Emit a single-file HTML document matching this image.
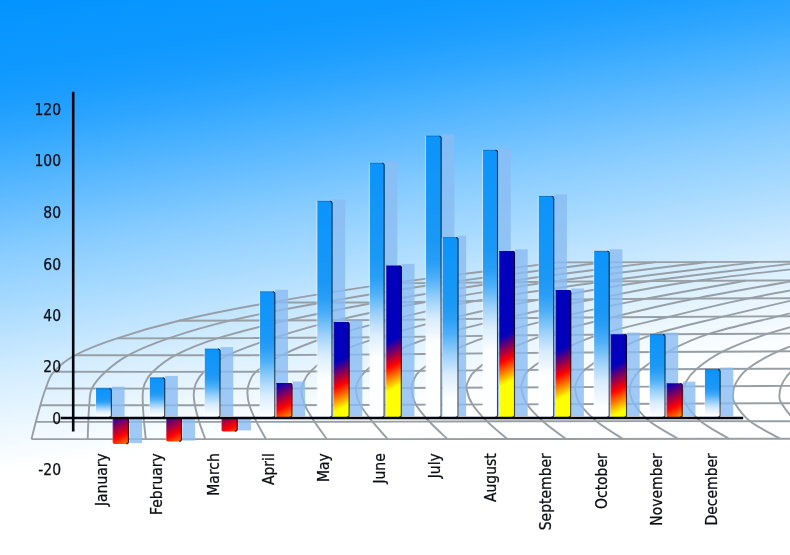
<!DOCTYPE html>
<html lang="en">
<head>
<meta charset="utf-8">
<title>Monthly chart</title>
<style>
html,body{margin:0;padding:0;background:#fff;}
body{width:790px;height:555px;overflow:hidden;}
svg{display:block;}
text{font-family:"DejaVu Sans Condensed","DejaVu Sans","Liberation Sans",sans-serif;font-stretch:condensed;font-size:15.5px;fill:#0b0d14;stroke:#0b0d14;stroke-width:.25px;}
.grid path{fill:none;stroke:#979fa5;stroke-width:1.9;stroke-linecap:butt;}
.sh rect{fill:#8abbf3;fill-opacity:.8;}
.e1{stroke:#00101c;stroke-width:1.1;fill:none;stroke-opacity:.78;}
.e2{stroke:#0a0600;stroke-width:1.1;fill:none;stroke-opacity:.8;}
.hl{stroke:#fff;stroke-width:1.2;fill:none;stroke-opacity:.36;}
.hl2{stroke:#fff;stroke-width:1;fill:none;stroke-opacity:.3;}
.te{stroke:#003a78;stroke-width:.7;fill:none;stroke-opacity:.45;}
.ax{stroke:#00040f;stroke-width:2.6;fill:none;}
</style>
</head>
<body>
<svg width="790" height="555" viewBox="0 0 790 555">
<defs>
<linearGradient id="bg" gradientUnits="userSpaceOnUse" x1="0" y1="0" x2="71.5" y2="464.0">
<stop offset="0.000" stop-color="#0393ff"/>
<stop offset="0.025" stop-color="#0594ff"/>
<stop offset="0.152" stop-color="#0f99ff"/>
<stop offset="0.215" stop-color="#1b9dff"/>
<stop offset="0.278" stop-color="#2da5ff"/>
<stop offset="0.341" stop-color="#43afff"/>
<stop offset="0.404" stop-color="#5ab8ff"/>
<stop offset="0.531" stop-color="#87ccff"/>
<stop offset="0.657" stop-color="#acdcff"/>
<stop offset="0.783" stop-color="#d2ecff"/>
<stop offset="0.909" stop-color="#eef8ff"/>
<stop offset="0.958" stop-color="#f8fcff"/>
<stop offset="1.000" stop-color="#ffffff"/>
</linearGradient>
<linearGradient id="b0" x1="0" y1="0" x2="0" y2="1"><stop offset="0.000" stop-color="#0b94fb"/><stop offset="0.370" stop-color="#1a98f5"/><stop offset="0.450" stop-color="#2a9ef6"/><stop offset="0.546" stop-color="#4fb0f7"/><stop offset="0.667" stop-color="#9ad0fa"/><stop offset="0.787" stop-color="#d8ecfd"/><stop offset="0.932" stop-color="#fdfeff"/></linearGradient>
<linearGradient id="b1" x1="0" y1="0" x2="0" y2="1"><stop offset="0.000" stop-color="#0b94fb"/><stop offset="0.370" stop-color="#1a98f5"/><stop offset="0.450" stop-color="#2a9ef6"/><stop offset="0.550" stop-color="#4fb0f7"/><stop offset="0.675" stop-color="#9ad0fa"/><stop offset="0.800" stop-color="#d8ecfd"/><stop offset="0.950" stop-color="#fdfeff"/></linearGradient>
<linearGradient id="b2" x1="0" y1="0" x2="0" y2="1"><stop offset="0.000" stop-color="#0b94fb"/><stop offset="0.370" stop-color="#1a98f5"/><stop offset="0.450" stop-color="#2a9ef6"/><stop offset="0.554" stop-color="#4fb0f7"/><stop offset="0.684" stop-color="#9ad0fa"/><stop offset="0.815" stop-color="#d8ecfd"/><stop offset="0.971" stop-color="#fdfeff"/></linearGradient>
<linearGradient id="b3" x1="0" y1="0" x2="0" y2="1"><stop offset="0.000" stop-color="#0b94fb"/><stop offset="0.370" stop-color="#1a98f5"/><stop offset="0.450" stop-color="#2a9ef6"/><stop offset="0.557" stop-color="#4fb0f7"/><stop offset="0.690" stop-color="#9ad0fa"/><stop offset="0.824" stop-color="#d8ecfd"/><stop offset="0.984" stop-color="#fdfeff"/></linearGradient>
<linearGradient id="b4" x1="0" y1="0" x2="0" y2="1"><stop offset="0.000" stop-color="#0b94fb"/><stop offset="0.370" stop-color="#1a98f5"/><stop offset="0.450" stop-color="#2a9ef6"/><stop offset="0.524" stop-color="#4fb0f7"/><stop offset="0.616" stop-color="#9ad0fa"/><stop offset="0.709" stop-color="#d8ecfd"/><stop offset="0.819" stop-color="#fdfeff"/></linearGradient>
<linearGradient id="b5" x1="0" y1="0" x2="0" y2="1"><stop offset="0.000" stop-color="#0b94fb"/><stop offset="0.370" stop-color="#1a98f5"/><stop offset="0.450" stop-color="#2a9ef6"/><stop offset="0.513" stop-color="#4fb0f7"/><stop offset="0.591" stop-color="#9ad0fa"/><stop offset="0.670" stop-color="#d8ecfd"/><stop offset="0.764" stop-color="#fdfeff"/></linearGradient>
<linearGradient id="b6" x1="0" y1="0" x2="0" y2="1"><stop offset="0.000" stop-color="#0b94fb"/><stop offset="0.370" stop-color="#1a98f5"/><stop offset="0.450" stop-color="#2a9ef6"/><stop offset="0.507" stop-color="#4fb0f7"/><stop offset="0.578" stop-color="#9ad0fa"/><stop offset="0.649" stop-color="#d8ecfd"/><stop offset="0.734" stop-color="#fdfeff"/></linearGradient>
<linearGradient id="b7" x1="0" y1="0" x2="0" y2="1"><stop offset="0.000" stop-color="#0b94fb"/><stop offset="0.370" stop-color="#1a98f5"/><stop offset="0.450" stop-color="#2a9ef6"/><stop offset="0.510" stop-color="#4fb0f7"/><stop offset="0.585" stop-color="#9ad0fa"/><stop offset="0.659" stop-color="#d8ecfd"/><stop offset="0.749" stop-color="#fdfeff"/></linearGradient>
<linearGradient id="b8" x1="0" y1="0" x2="0" y2="1"><stop offset="0.000" stop-color="#0b94fb"/><stop offset="0.370" stop-color="#1a98f5"/><stop offset="0.450" stop-color="#2a9ef6"/><stop offset="0.522" stop-color="#4fb0f7"/><stop offset="0.613" stop-color="#9ad0fa"/><stop offset="0.703" stop-color="#d8ecfd"/><stop offset="0.811" stop-color="#fdfeff"/></linearGradient>
<linearGradient id="b9" x1="0" y1="0" x2="0" y2="1"><stop offset="0.000" stop-color="#0b94fb"/><stop offset="0.370" stop-color="#1a98f5"/><stop offset="0.450" stop-color="#2a9ef6"/><stop offset="0.546" stop-color="#4fb0f7"/><stop offset="0.666" stop-color="#9ad0fa"/><stop offset="0.786" stop-color="#d8ecfd"/><stop offset="0.930" stop-color="#fdfeff"/></linearGradient>
<linearGradient id="b10" x1="0" y1="0" x2="0" y2="1"><stop offset="0.000" stop-color="#0b94fb"/><stop offset="0.370" stop-color="#1a98f5"/><stop offset="0.450" stop-color="#2a9ef6"/><stop offset="0.555" stop-color="#4fb0f7"/><stop offset="0.687" stop-color="#9ad0fa"/><stop offset="0.818" stop-color="#d8ecfd"/><stop offset="0.976" stop-color="#fdfeff"/></linearGradient>
<linearGradient id="b11" x1="0" y1="0" x2="0" y2="1"><stop offset="0.000" stop-color="#0b94fb"/><stop offset="0.370" stop-color="#1a98f5"/><stop offset="0.450" stop-color="#2a9ef6"/><stop offset="0.552" stop-color="#4fb0f7"/><stop offset="0.679" stop-color="#9ad0fa"/><stop offset="0.806" stop-color="#d8ecfd"/><stop offset="0.959" stop-color="#fdfeff"/></linearGradient>
<linearGradient id="f0" gradientUnits="userSpaceOnUse" x1="111.4" y1="415.2" x2="131" y2="454.4"><stop offset="0" stop-color="#0300bc"/><stop offset="0.52" stop-color="#ff0000"/><stop offset="1" stop-color="#ffff00"/></linearGradient>
<linearGradient id="f1" gradientUnits="userSpaceOnUse" x1="164.3" y1="413.9" x2="183.9" y2="453.1"><stop offset="0" stop-color="#0300bc"/><stop offset="0.52" stop-color="#ff0000"/><stop offset="1" stop-color="#ffff00"/></linearGradient>
<linearGradient id="f2" gradientUnits="userSpaceOnUse" x1="217" y1="408.7" x2="236.6" y2="447.9"><stop offset="0" stop-color="#0300bc"/><stop offset="0.52" stop-color="#ff0000"/><stop offset="1" stop-color="#ffff00"/></linearGradient>
<linearGradient id="f3" gradientUnits="userSpaceOnUse" x1="277" y1="384.8" x2="296.6" y2="424"><stop offset="0" stop-color="#0300bc"/><stop offset="0.52" stop-color="#ff0000"/><stop offset="1" stop-color="#ffff00"/></linearGradient>
<linearGradient id="f4" gradientUnits="userSpaceOnUse" x1="350.1" y1="355.1" x2="369.7" y2="394.3"><stop offset="0" stop-color="#0300bc"/><stop offset="0.52" stop-color="#ff0000"/><stop offset="1" stop-color="#ffff00"/></linearGradient>
<linearGradient id="f5" gradientUnits="userSpaceOnUse" x1="417.1" y1="327.7" x2="436.7" y2="366.9"><stop offset="0" stop-color="#0300bc"/><stop offset="0.52" stop-color="#ff0000"/><stop offset="1" stop-color="#ffff00"/></linearGradient>
<linearGradient id="b12" x1="0" y1="0" x2="0" y2="1"><stop offset="0.000" stop-color="#0b94fb"/><stop offset="0.370" stop-color="#1a98f5"/><stop offset="0.450" stop-color="#2a9ef6"/><stop offset="0.539" stop-color="#4fb0f7"/><stop offset="0.650" stop-color="#9ad0fa"/><stop offset="0.761" stop-color="#d8ecfd"/><stop offset="0.894" stop-color="#fdfeff"/></linearGradient>
<linearGradient id="f7" gradientUnits="userSpaceOnUse" x1="533.8" y1="320.6" x2="553.4" y2="359.8"><stop offset="0" stop-color="#0300bc"/><stop offset="0.52" stop-color="#ff0000"/><stop offset="1" stop-color="#ffff00"/></linearGradient>
<linearGradient id="f8" gradientUnits="userSpaceOnUse" x1="580.2" y1="339.6" x2="599.8" y2="378.8"><stop offset="0" stop-color="#0300bc"/><stop offset="0.52" stop-color="#ff0000"/><stop offset="1" stop-color="#ffff00"/></linearGradient>
<linearGradient id="f9" gradientUnits="userSpaceOnUse" x1="623.9" y1="361" x2="643.5" y2="400.2"><stop offset="0" stop-color="#0300bc"/><stop offset="0.52" stop-color="#ff0000"/><stop offset="1" stop-color="#ffff00"/></linearGradient>
<linearGradient id="f10" gradientUnits="userSpaceOnUse" x1="667.3" y1="384.8" x2="686.9" y2="424"><stop offset="0" stop-color="#0300bc"/><stop offset="0.52" stop-color="#ff0000"/><stop offset="1" stop-color="#ffff00"/></linearGradient>
</defs>
<rect width="790" height="555" fill="url(#bg)"/>
<g class="grid">
<path d="M31.5 439.1C92.9 439.1 273.6 439.2 400 439.1C526.4 439 725 438.8 790 438.7"/>
<path d="M35.8 421.9C71.5 421.9 189.3 421.9 250 421.9C310.7 421.8 350 421.7 400 421.6C450 421.5 485 421.3 550 421.2C615 421.1 750 421.2 790 421.2"/>
<path d="M40.4 405.2C75.3 405.2 190.1 405.3 250 405.2C309.9 405.1 350 405 400 404.8C450 404.6 485 404.5 550 404.2C615 403.9 750 403.4 790 403.2"/>
<path d="M45.7 388.5C79.8 388.5 190.9 388.7 250 388.6C309.1 388.5 350 388.2 400 388C450 387.8 485 387.6 550 387.2C615 386.8 750 386.1 790 385.9"/>
<path d="M53.7 371.8C86.4 371.8 192.3 371.9 250 371.8C307.7 371.7 350 371.3 400 371C450 370.7 485 370.2 550 369.8C615 369.4 750 368.9 790 368.7"/>
<path d="M75 355.3C104.2 355.3 195.8 355.4 250 355.2C304.2 355 350 354.6 400 354.2C450 353.8 485 353.2 550 352.7C615 352.2 750 351.5 790 351.3"/>
<path d="M117 338.4C139.2 338.3 202.8 338.3 250 338.1C297.2 337.9 350 337.5 400 337C450 336.5 485 335.6 550 335C615 334.4 750 333.8 790 333.6"/>
<path d="M179 320.8C190.8 320.8 213.2 320.6 250 320.5C286.8 320.4 350 320.3 400 319.9C450 319.4 485 318.4 550 317.8C615 317.2 750 316.5 790 316.2"/>
<path d="M271 302.4C292.5 302.4 353.5 302.7 400 302.2C446.5 301.7 485 300.3 550 299.6C615 298.9 750 298.4 790 298.2"/>
<path d="M391 283.4C417.5 283.1 483.5 282.3 550 281.8C616.5 281.3 750 280.6 790 280.4"/>
<path d="M558 262.4C596.7 262.3 751.3 261.9 790 261.8"/>
<path d="M31.5 439.1C32.2 436.2 34.3 427.5 35.8 421.9C37.3 416.2 38.8 410.8 40.4 405.2C42 399.6 43.5 394.1 45.7 388.5C47.9 382.9 48.8 377.3 53.7 371.8C58.6 366.3 64.5 360.9 75 355.3C85.5 349.7 99.7 344.1 117 338.4C134.3 332.6 153.3 326.8 179 320.8C204.7 314.8 235.7 308.6 271 302.4C306.3 296.2 343.2 290.1 391 283.4C438.8 276.7 530.2 265.9 558 262.4"/>
<path d="M87.7 439.1C87.8 436.2 88 427.5 88.3 421.9C88.6 416.2 88.7 410.8 89.3 405.2C89.9 399.6 89.2 394.1 91.9 388.5C94.6 382.9 99.5 377.3 105.5 371.8C111.5 366.3 117.5 360.9 128 355.3C138.5 349.7 151.5 344.1 168.5 338.3C185.5 332.5 204.1 326.6 230 320.6C255.9 314.6 288 308.6 324 302.3C360 296 399.2 289.5 446 282.8C492.8 276.2 578.5 265.7 605 262.3"/>
<path d="M145.8 439.1C145.5 436.2 144.5 427.5 144 421.9C143.5 416.2 143.1 410 142.9 405.2C142.7 400.4 142.5 396.6 142.8 393C143.1 389.4 143.1 387 144.8 383.5C146.4 379.9 147.6 376.5 152.7 371.8C157.8 367.1 164.6 360.8 175.5 355.2C186.4 349.6 199.4 344 218 338.2C236.6 332.4 260.4 326.3 287 320.4C313.6 314.4 342 308.6 377.5 302.2C413 295.9 453.6 289 500 282.3C546.4 275.6 630 265.5 656 262.1"/>
<path d="M205.3 439.1C204.3 436.2 200.9 427.5 199.2 421.9C197.5 416.2 195.8 409.9 194.9 405.2C194 400.5 193.6 397.1 193.8 393.5C194 389.9 194.1 387.4 195.8 383.7C197.5 380.1 198.7 376.6 204 371.8C209.3 367 216 360.9 227.7 355.2C239.4 349.6 255.8 343.8 274 337.9C292.2 332.1 311.5 326.2 337 320.2C362.5 314.1 391.3 308.1 427 301.7C462.7 295.3 504.3 288.4 551 281.8C597.7 275.2 681 265.3 707 262"/>
<path d="M266 439.1C264.4 436.2 259.3 427.5 256.5 421.9C253.7 416.2 250.9 410.1 249.4 405.2C247.9 400.3 247.4 396.3 247.4 392.6C247.4 388.9 247.7 386.7 249.1 383.2C250.6 379.8 250.5 376.5 256 371.8C261.5 367.1 270.3 360.7 282 355C293.7 349.3 307.8 343.4 326 337.5C344.2 331.7 366 326 391 319.9C416 313.8 440.7 307.3 476 300.9C511.3 294.5 556 288 603 281.5C650 275 732.2 265.2 758 261.9"/>
<path d="M326.8 439.1C324.8 436.2 318.2 427.4 314.5 421.8C310.8 416.1 307 410 304.8 405.1C302.6 400.1 301.8 395.7 301.5 392C301.2 388.3 301.8 386.2 303.3 382.8C304.8 379.3 305.6 376.2 310.5 371.5C315.4 366.8 321.4 360.4 333 354.6C344.6 348.9 361.2 343 380 337.1C398.8 331.2 419.7 325.5 446 319.3C472.3 313 504.3 306.1 538 299.8C571.7 293.5 603 287.6 648 281.2C693 274.9 781.3 265 808 261.8"/>
<path d="M387.7 439.1C385.2 436.2 377.1 427.4 372.5 421.7C367.9 416 363.1 410.1 360.3 404.9C357.5 399.7 356.3 394.4 355.9 390.6C355.5 386.8 356.2 385.1 357.8 381.9C359.4 378.6 360.3 375.8 365.5 371.2C370.7 366.6 377.6 360 389 354.3C400.4 348.5 414.7 342.5 434 336.5C453.3 330.6 478.5 324.6 505 318.4C531.5 312.2 561.3 305.6 593 299.3C624.7 293.1 650.8 287.2 695 281C739.2 274.7 830.8 264.8 858 261.6"/>
<path d="M447.4 439.1C444.4 436.1 434.5 427.2 429.3 421.5C424.1 415.8 418.9 410.1 416 404.7C413.1 399.4 412.1 393.4 411.6 389.5C411.1 385.6 411.9 384.2 413.3 381.1C414.7 378 414.5 375.4 420 370.8C425.5 366.3 434.3 359.6 446 353.7C457.7 347.9 471.5 341.8 490 335.8C508.5 329.8 531.3 323.9 557 317.8C582.7 311.6 612.5 305.2 644 299.1C675.5 292.9 728.8 283.7 745.7 280.7"/>
<path d="M507.3 439C503.9 436.1 492.8 427.1 487 421.4C481.2 415.6 475.9 409.9 472.5 404.5C469.1 399.1 467.3 393 466.6 389C465.9 385 466.9 383.7 468.4 380.6C469.9 377.5 470 375 475.5 370.4C481 365.8 489.8 359.1 501.3 353.2C512.8 347.3 526 341 544.5 335.1C563 329.1 587.1 323.4 612 317.4C636.9 311.3 663.2 304.9 694 298.8C724.8 292.6 779.8 283.4 797 280.4"/>
<path d="M566 438.9C562.1 436 549.3 427 542.8 421.2C536.3 415.4 530.5 409.7 527 404.3C523.5 398.9 522.2 393 521.5 389C520.8 385 521.8 383.6 523 380.4C524.2 377.3 523.4 374.6 529 370C534.6 365.3 544.9 358.5 556.6 352.7C568.3 346.8 580.4 340.7 599 334.7C617.6 328.8 643 323.1 668 317C693 311 719 304.6 749 298.4C779 292.3 831.5 283.1 848 280.1"/>
<path d="M622.7 438.9C618.3 435.9 603.5 427 596.4 421.2C589.3 415.4 583.5 409.4 580 404.1C576.5 398.8 575.7 393.4 575.2 389.5C574.7 385.6 575.5 383.9 577.2 380.6C578.8 377.3 579.2 374.3 585 369.6C590.8 364.9 600.5 358.2 611.9 352.3C623.3 346.5 635 340.3 653.5 334.4C672 328.4 698.2 322.7 723 316.6C747.8 310.6 788.8 301.2 802 298.1"/>
<path d="M678 438.8C673.2 435.9 656.8 427 649.5 421.2C642.2 415.4 637.3 409 634 403.8C630.7 398.7 630.1 394.3 629.8 390.5C629.5 386.7 630.2 384.5 632 381C633.9 377.5 635.1 374.2 641 369.4C646.9 364.6 656 357.9 667.2 352C678.4 346.1 689.5 340 708 334.1C726.5 328.1 753.5 322.3 778 316.3C802.5 310.2 842.2 300.9 855 297.8"/>
<path d="M729 438.8C724.2 435.8 707.8 427.1 700.5 421.2C693.2 415.3 688.4 408.3 685.5 403.6C682.6 398.9 683 396.6 683 393C683 389.4 683.5 386.2 685.7 382.3C688 378.3 690.4 374.2 696.5 369.1C702.6 364 710.6 357.6 722.5 351.7C734.4 345.8 749.8 339.7 768 333.7C786.2 327.8 821.3 318.9 832 315.9"/>
<path d="M780 438.7C775 435.8 757.5 427.1 750 421.2C742.5 415.3 737.8 407.9 735 403.4C732.2 399 732.9 397.9 733 394.5C733.1 391.1 733.5 387.2 735.9 383C738.3 378.7 740.5 374.2 747.5 368.9C754.5 363.6 764.9 357.3 778 351.4C791.1 345.5 818 336.4 826 333.4"/>
<path d="M829 438.7C823.6 435.8 804.5 427.1 796.6 421.2C788.7 415.3 784.4 407.7 781.5 403.2C778.6 398.8 779.3 397.9 779.5 394.5C779.7 391.1 780 387.2 782.6 382.9C785.2 378.6 786.6 374 795 368.7C803.4 363.4 826.7 354 833 351"/>
</g>
<g class="sh">
<rect x="111.9" y="386.7" width="12.7" height="29.5"/>
<rect x="165.2" y="375.9" width="12.7" height="40.3"/>
<rect x="220.5" y="347.1" width="12.7" height="69.1"/>
<rect x="275.3" y="289.8" width="12.7" height="126.4"/>
<rect x="332.5" y="199.4" width="12.7" height="216.8"/>
<rect x="384.6" y="161.3" width="12.7" height="254.9"/>
<rect x="441.6" y="134.2" width="12.7" height="282"/>
<rect x="498" y="148.4" width="12.7" height="267.8"/>
<rect x="554.2" y="194.5" width="12.7" height="221.7"/>
<rect x="609.7" y="249.3" width="12.7" height="166.9"/>
<rect x="665.5" y="332.6" width="12.7" height="83.6"/>
<rect x="720.6" y="367.6" width="12.7" height="48.6"/>
<rect x="129.4" y="419" width="12.7" height="24.1"/>
<rect x="182.4" y="419" width="12.7" height="21.6"/>
<rect x="238.2" y="419" width="12.7" height="11.4"/>
<rect x="292.4" y="381.5" width="12.7" height="34.7"/>
<rect x="349.6" y="320.4" width="12.7" height="95.8"/>
<rect x="401.8" y="263.9" width="12.7" height="152.3"/>
<rect x="458.5" y="235.6" width="7.6" height="180.6"/>
<rect x="515" y="249.3" width="12.7" height="166.9"/>
<rect x="571.2" y="288.5" width="12.7" height="127.7"/>
<rect x="627" y="332.6" width="12.7" height="83.6"/>
<rect x="682.7" y="381.6" width="12.7" height="34.6"/>
</g>
<g class="bars">
<path d="M96 388.3H109.9Q111.9 388.3 111.9 390.3V415.6Q111.9 417.6 109.9 417.6H98Q96 417.6 96 415.6Z" fill="url(#b0)"/>
<path d="M95.5 388.6V416.1" class="hl"/>
<path d="M96 388.7H110.4" class="te"/>
<path d="M109.4 388.7Q111.4 388.7 111.4 390.7V415.3Q111.4 417.3 109.1 417.3" class="e1"/>
<path d="M149.8 377.5H163.2Q165.2 377.5 165.2 379.5V415.6Q165.2 417.6 163.2 417.6H151.8Q149.8 417.6 149.8 415.6Z" fill="url(#b1)"/>
<path d="M149.3 377.8V416.1" class="hl"/>
<path d="M149.8 377.9H163.7" class="te"/>
<path d="M162.7 377.9Q164.7 377.9 164.7 379.9V415.3Q164.7 417.3 162.4 417.3" class="e1"/>
<path d="M204.7 348.7H218.5Q220.5 348.7 220.5 350.7V415.6Q220.5 417.6 218.5 417.6H206.7Q204.7 417.6 204.7 415.6Z" fill="url(#b2)"/>
<path d="M204.2 349V416.1" class="hl"/>
<path d="M204.7 349.1H219" class="te"/>
<path d="M218 349.1Q220 349.1 220 351.1V415.3Q220 417.3 217.7 417.3" class="e1"/>
<path d="M260 291.4H273.3Q275.3 291.4 275.3 293.4V415.6Q275.3 417.6 273.3 417.6H262Q260 417.6 260 415.6Z" fill="url(#b3)"/>
<path d="M259.5 291.7V416.1" class="hl"/>
<path d="M260 291.8H273.8" class="te"/>
<path d="M272.8 291.8Q274.8 291.8 274.8 293.8V415.3Q274.8 417.3 272.5 417.3" class="e1"/>
<path d="M317.3 201H330.5Q332.5 201 332.5 203V415.6Q332.5 417.6 330.5 417.6H319.3Q317.3 417.6 317.3 415.6Z" fill="url(#b4)"/>
<path d="M316.8 201.3V416.1" class="hl"/>
<path d="M317.3 201.3H331" class="te"/>
<path d="M330 201.4Q332 201.4 332 203.4V415.3Q332 417.3 329.7 417.3" class="e1"/>
<path d="M369.9 162.9H382.6Q384.6 162.9 384.6 164.9V415.6Q384.6 417.6 382.6 417.6H371.9Q369.9 417.6 369.9 415.6Z" fill="url(#b5)"/>
<path d="M369.4 163.2V416.1" class="hl"/>
<path d="M369.9 163.2H383.1" class="te"/>
<path d="M382.1 163.3Q384.1 163.3 384.1 165.3V415.3Q384.1 417.3 381.8 417.3" class="e1"/>
<path d="M426 135.8H439.6Q441.6 135.8 441.6 137.8V415.6Q441.6 417.6 439.6 417.6H428Q426 417.6 426 415.6Z" fill="url(#b6)"/>
<path d="M425.5 136.1V416.1" class="hl"/>
<path d="M426 136.2H440.1" class="te"/>
<path d="M439.1 136.2Q441.1 136.2 441.1 138.2V415.3Q441.1 417.3 438.8 417.3" class="e1"/>
<path d="M483 150H496Q498 150 498 152V415.6Q498 417.6 496 417.6H485Q483 417.6 483 415.6Z" fill="url(#b7)"/>
<path d="M482.5 150.3V416.1" class="hl"/>
<path d="M483 150.3H496.5" class="te"/>
<path d="M495.5 150.4Q497.5 150.4 497.5 152.4V415.3Q497.5 417.3 495.2 417.3" class="e1"/>
<path d="M538.8 196.1H552.2Q554.2 196.1 554.2 198.1V415.6Q554.2 417.6 552.2 417.6H540.8Q538.8 417.6 538.8 415.6Z" fill="url(#b8)"/>
<path d="M538.3 196.4V416.1" class="hl"/>
<path d="M538.8 196.4H552.7" class="te"/>
<path d="M551.7 196.5Q553.7 196.5 553.7 198.5V415.3Q553.7 417.3 551.4 417.3" class="e1"/>
<path d="M594.1 250.9H607.7Q609.7 250.9 609.7 252.9V415.6Q609.7 417.6 607.7 417.6H596.1Q594.1 417.6 594.1 415.6Z" fill="url(#b9)"/>
<path d="M593.6 251.2V416.1" class="hl"/>
<path d="M594.1 251.2H608.2" class="te"/>
<path d="M607.2 251.3Q609.2 251.3 609.2 253.3V415.3Q609.2 417.3 606.9 417.3" class="e1"/>
<path d="M649.8 334.2H663.5Q665.5 334.2 665.5 336.2V415.6Q665.5 417.6 663.5 417.6H651.8Q649.8 417.6 649.8 415.6Z" fill="url(#b10)"/>
<path d="M649.3 334.5V416.1" class="hl"/>
<path d="M649.8 334.6H664" class="te"/>
<path d="M663 334.6Q665 334.6 665 336.6V415.3Q665 417.3 662.7 417.3" class="e1"/>
<path d="M704.9 369.2H718.6Q720.6 369.2 720.6 371.2V415.6Q720.6 417.6 718.6 417.6H706.9Q704.9 417.6 704.9 415.6Z" fill="url(#b11)"/>
<path d="M704.4 369.5V416.1" class="hl"/>
<path d="M704.9 369.6H719.1" class="te"/>
<path d="M718.1 369.6Q720.1 369.6 720.1 371.6V415.3Q720.1 417.3 717.8 417.3" class="e1"/>
<path d="M112.6 417.5H126.9Q128.9 417.5 128.9 419.5V442.1Q128.9 444.1 126.9 444.1H114.6Q112.6 444.1 112.6 442.1Z" fill="url(#f0)"/>
<path d="M112.8 418V442.6" class="hl2"/>
<path d="M126.4 417.9Q128.4 417.9 128.4 419.9V441.8Q128.4 443.8 126.1 443.8" class="e2"/>
<path d="M166.1 417.5H179.9Q181.9 417.5 181.9 419.5V439.6Q181.9 441.6 179.9 441.6H168.1Q166.1 441.6 166.1 439.6Z" fill="url(#f1)"/>
<path d="M166.3 418V440.1" class="hl2"/>
<path d="M179.4 417.9Q181.4 417.9 181.4 419.9V439.3Q181.4 441.3 179.1 441.3" class="e2"/>
<path d="M221.4 417.5H235.7Q237.7 417.5 237.7 419.5V429.4Q237.7 431.4 235.7 431.4H223.4Q221.4 431.4 221.4 429.4Z" fill="url(#f2)"/>
<path d="M221.6 418V429.9" class="hl2"/>
<path d="M235.2 417.9Q237.2 417.9 237.2 419.9V429.1Q237.2 431.1 234.9 431.1" class="e2"/>
<path d="M276.2 383.1H290.4Q292.4 383.1 292.4 385.1V415.5Q292.4 417.5 290.4 417.5H278.2Q276.2 417.5 276.2 415.5Z" fill="url(#f3)"/>
<path d="M276.4 383.6V416" class="hl2"/>
<path d="M289.9 383.5Q291.9 383.5 291.9 385.5V415.2Q291.9 417.2 289.6 417.2" class="e2"/>
<path d="M333.5 322H347.6Q349.6 322 349.6 324V415.5Q349.6 417.5 347.6 417.5H335.5Q333.5 417.5 333.5 415.5Z" fill="url(#f4)"/>
<path d="M333.7 322.5V416" class="hl2"/>
<path d="M347.1 322.4Q349.1 322.4 349.1 324.4V415.2Q349.1 417.2 346.8 417.2" class="e2"/>
<path d="M386 265.5H399.8Q401.8 265.5 401.8 267.5V415.5Q401.8 417.5 399.8 417.5H388Q386 417.5 386 415.5Z" fill="url(#f5)"/>
<path d="M386.2 266V416" class="hl2"/>
<path d="M399.3 265.9Q401.3 265.9 401.3 267.9V415.2Q401.3 417.2 399 417.2" class="e2"/>
<path d="M442.7 237.2H456.5Q458.5 237.2 458.5 239.2V415.5Q458.5 417.5 456.5 417.5H444.7Q442.7 417.5 442.7 415.5Z" fill="url(#b12)"/>
<path d="M442.2 237.5V416" class="hl"/>
<path d="M442.7 237.5H457" class="te"/>
<path d="M456 237.6Q458 237.6 458 239.6V415.2Q458 417.2 455.7 417.2" class="e1"/>
<path d="M499 250.9H513Q515 250.9 515 252.9V415.5Q515 417.5 513 417.5H501Q499 417.5 499 415.5Z" fill="url(#f7)"/>
<path d="M499.2 251.4V416" class="hl2"/>
<path d="M512.5 251.3Q514.5 251.3 514.5 253.3V415.2Q514.5 417.2 512.2 417.2" class="e2"/>
<path d="M555.4 290.1H569.2Q571.2 290.1 571.2 292.1V415.5Q571.2 417.5 569.2 417.5H557.4Q555.4 417.5 555.4 415.5Z" fill="url(#f8)"/>
<path d="M555.6 290.6V416" class="hl2"/>
<path d="M568.7 290.5Q570.7 290.5 570.7 292.5V415.2Q570.7 417.2 568.4 417.2" class="e2"/>
<path d="M610.5 334.2H625Q627 334.2 627 336.2V415.5Q627 417.5 625 417.5H612.5Q610.5 417.5 610.5 415.5Z" fill="url(#f9)"/>
<path d="M610.7 334.7V416" class="hl2"/>
<path d="M624.5 334.6Q626.5 334.6 626.5 336.6V415.2Q626.5 417.2 624.2 417.2" class="e2"/>
<path d="M666.5 383.2H680.7Q682.7 383.2 682.7 385.2V415.5Q682.7 417.5 680.7 417.5H668.5Q666.5 417.5 666.5 415.5Z" fill="url(#f10)"/>
<path d="M666.7 383.7V416" class="hl2"/>
<path d="M680.2 383.6Q682.2 383.6 682.2 385.6V415.2Q682.2 417.2 679.9 417.2" class="e2"/>
</g>
<path class="ax" d="M73.2 91.8V431.6"/>
<path class="ax" d="M61 418H743.2"/>
<g class="lab">
<text x="61.1" y="114.5" text-anchor="end">120</text>
<text x="61.1" y="166.4" text-anchor="end">100</text>
<text x="61.1" y="218.3" text-anchor="end">80</text>
<text x="61.1" y="269.7" text-anchor="end">60</text>
<text x="61.1" y="321.2" text-anchor="end">40</text>
<text x="61.1" y="372.2" text-anchor="end">20</text>
<text x="61.1" y="423.7" text-anchor="end">0</text>
<text x="61.1" y="475.2" text-anchor="end">-20</text>
<text transform="translate(106.6 453.2) rotate(-90)" text-anchor="end">January</text>
<text transform="translate(162.3 453.2) rotate(-90)" text-anchor="end">February</text>
<text transform="translate(218.7 453.2) rotate(-90)" text-anchor="end">March</text>
<text transform="translate(273.7 453.2) rotate(-90)" text-anchor="end">April</text>
<text transform="translate(329 453.2) rotate(-90)" text-anchor="end">May</text>
<text transform="translate(385 453.2) rotate(-90)" text-anchor="end">June</text>
<text transform="translate(440 453.2) rotate(-90)" text-anchor="end">July</text>
<text transform="translate(495.8 453.2) rotate(-90)" text-anchor="end">August</text>
<text transform="translate(550.9 453.2) rotate(-90)" text-anchor="end">September</text>
<text transform="translate(606.8 453.2) rotate(-90)" text-anchor="end">October</text>
<text transform="translate(662.3 453.2) rotate(-90)" text-anchor="end">November</text>
<text transform="translate(717.3 453.2) rotate(-90)" text-anchor="end">December</text>
</g>
</svg>
</body>
</html>
